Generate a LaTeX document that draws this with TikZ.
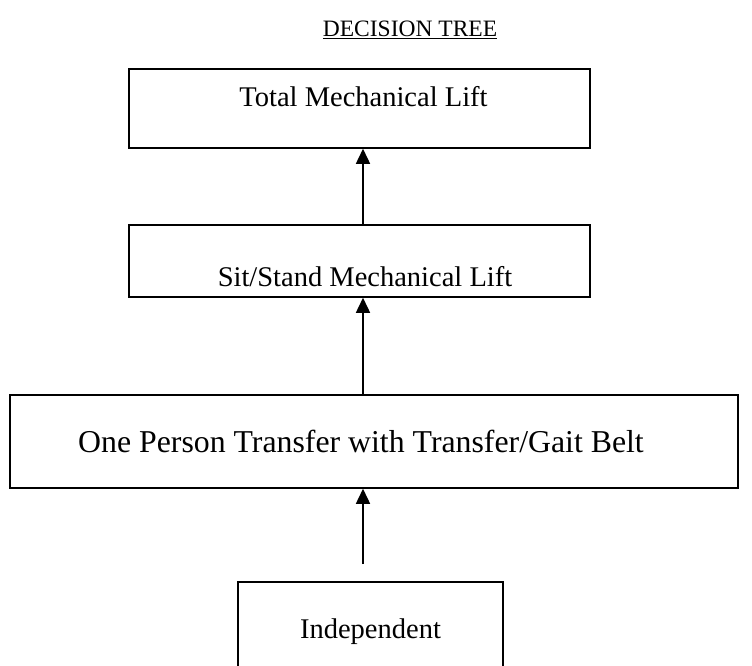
\documentclass[tikz,border=0pt]{standalone}
\usepackage{fontspec}
\setmainfont{Liberation Serif}
\usetikzlibrary{arrows.meta}
\tikzset{box/.style = {rectangle,draw,line width=1.5pt,inner sep=0pt},
         lbl/.style = {inner sep=0pt,font=\fontsize{28.5}{32}\selectfont},
         arr/.style = {line width=1.5pt,-{Triangle[width=14pt,length=15pt]}}}
\begin{document}
\begin{tikzpicture}[x=1pt,y=-1pt]
            \useasboundingbox (0,0) rectangle (752,665);

            \node [box,minimum width=461pt,minimum height=79pt] (total) at (359.5,108.5) {};
            \node [box,minimum width=461pt,minimum height=72pt] (sitstand) at (359.5,261) {};
            \node [box,minimum width=728pt,minimum height=93pt] (oneperson) at (374,441.5) {};
            \node [box,minimum width=265pt,minimum height=130pt] (indep) at (370.5,647) {};

            \node [lbl,font=\fontsize{23.5}{28}\selectfont] (title) at (410,30) {\underline{DECISION TREE}};
            \node [lbl] (t1) at (363.5,97) {Total Mechanical Lift};
            \node [lbl] (t2) at (365,277) {Sit/Stand Mechanical Lift};
            \node [lbl,font=\fontsize{31.8}{35}\selectfont] (t3) at (361,441) {One Person Transfer with Transfer/Gait Belt};
            \node [lbl] (t4) at (370.5,632) {Independent};

            \coordinate (start) at (363,564);

            \draw [arr] (sitstand.north -| start) -- (total.south -| start);
            \draw [arr] (oneperson.north -| start) -- (sitstand.south -| start);
            \draw [arr] (start) -- (oneperson.south -| start);
        \end{tikzpicture}
\end{document}
